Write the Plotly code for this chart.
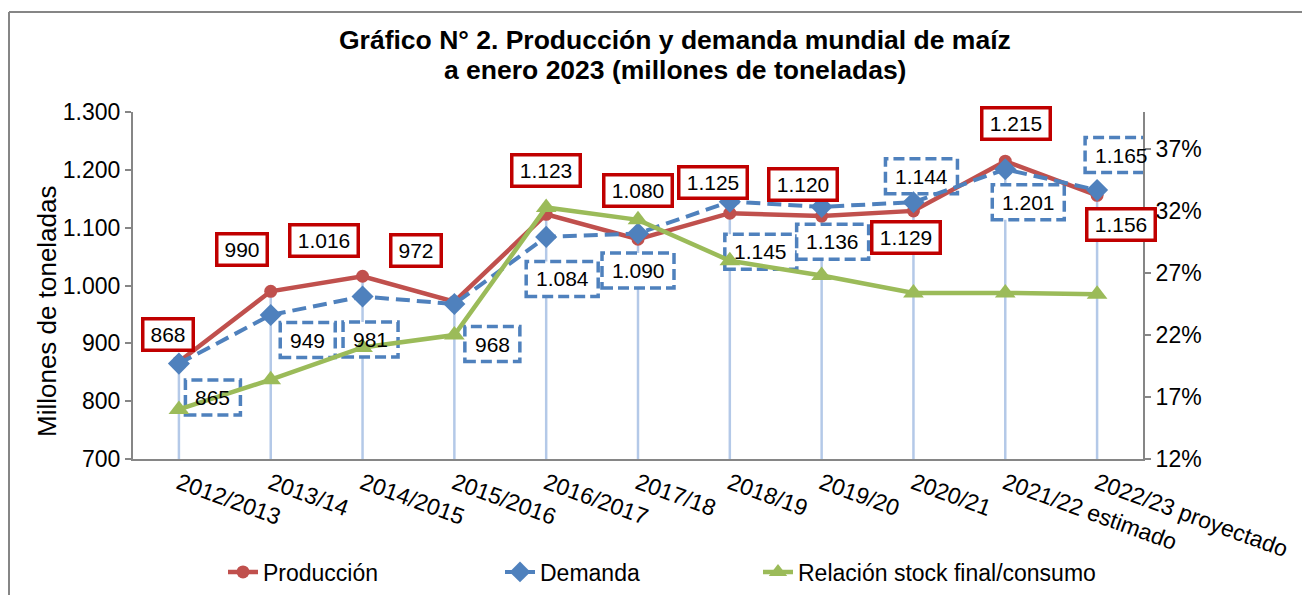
import plotly.graph_objects as go

# ---------------- data ----------------
categories = ["2012/2013", "2013/14", "2014/2015", "2015/2016", "2016/2017", "2017/18",
              "2018/19", "2019/20", "2020/21", "2021/22 estimado", "2022/23 proyectado"]
produccion = [868, 990, 1016, 972, 1123, 1080, 1125, 1120, 1129, 1215, 1156]
demanda = [865, 949, 981, 968, 1084, 1090, 1145, 1136, 1144, 1201, 1165]
relacion_stock = [0.160, 0.184, 0.210, 0.220, 0.323, 0.313, 0.280, 0.268, 0.254, 0.254, 0.253]

left_ticks = [700, 800, 900, 1000, 1100, 1200, 1300]
right_ticks = [0.12, 0.17, 0.22, 0.27, 0.32, 0.37]

# label offsets from their point, in screen pixels (dx right, dy down)
prod_offsets = [(-11, -27), (-29, -42), (-39, -36), (-38, -51), (0, -44), (0, -49),
                (-17, -31), (-19, -32), (-7, 27), (11, -38), (24, 29)]
dem_offsets = [(34, 34), (37, 25), (8, 43), (38, 40), (16, 42), (0, 37),
               (31, 50), (11, 35), (8, -26), (23, 33), (24, -35)]

RED = "#C0504D"
RED_BOX = "#C00000"
BLUE = "#4F81BD"
GREEN = "#9BBB59"
DROP = "#B4C9E8"
AXIS = "#868686"
FONT = "Liberation Sans, Arial, sans-serif"

OFF = 8  # page body margin
W, H = 1310 - OFF, 595 - OFF
L, R, T, B = 133 - OFF, 1143 - OFF, 112 - OFF, 459 - OFF
PW, PH = R - L, B - T


def px_x(p):
    return (p - OFF - L) / PW


def px_y(p):
    return (B - (p - OFF)) / PH


def fmt(v):
    return f"{v:,}".replace(",", ".")


x = list(range(len(categories)))

fig = go.Figure()

fig.add_trace(go.Scatter(
    x=x, y=produccion, name="Producción", mode="lines+markers", legend="legend",
    line=dict(color=RED, width=4.5),
    marker=dict(symbol="circle", size=13, color=RED),
))
fig.add_trace(go.Scatter(
    x=x, y=demanda, name="Demanda", mode="lines+markers", legend="legend2",
    line=dict(color=BLUE, width=4, dash="14px,7px"),
    marker=dict(symbol="diamond", size=17, color=BLUE),
))
fig.add_trace(go.Scatter(
    x=x, y=relacion_stock, name="Relación stock final/consumo", mode="lines+markers",
    yaxis="y2", legend="legend3",
    line=dict(color=GREEN, width=4.5),
    marker=dict(symbol="triangle-up", size=18, color=GREEN),
))

shapes = []
# drop lines
for i in x:
    top = max(produccion[i], demanda[i])
    shapes.append(dict(type="line", xref="x", yref="y", x0=i, x1=i, y0=left_ticks[0], y1=top,
                       line=dict(color=DROP, width=2.5), layer="below"))

annotations = []
# demand labels: dashed boxes
for i, (v, (dx, dy)) in enumerate(zip(demanda, dem_offsets)):
    txt = fmt(v)
    w = 72 if v >= 1000 else 55
    h = 35
    shapes.append(dict(type="rect", xref="x", yref="y", xsizemode="pixel", ysizemode="pixel",
                       xanchor=i, yanchor=v,
                       x0=dx - w / 2, x1=dx + w / 2, y0=-dy - h / 2, y1=-dy + h / 2,
                       line=dict(color=BLUE, width=3.5, dash="11px,5px"),
                       fillcolor="white", layer="below"))
    annotations.append(dict(x=i, y=v, xref="x", yref="y", text=txt, showarrow=False,
                            xshift=dx, yshift=-dy, font=dict(family=FONT, size=21, color="black")))

# production labels: solid red boxes
for i, (v, (dx, dy)) in enumerate(zip(produccion, prod_offsets)):
    txt = fmt(v)
    w = 72 if v >= 1000 else 54
    h = 35
    annotations.append(dict(x=i, y=v, xref="x", yref="y", text=txt, showarrow=False,
                            xshift=dx, yshift=-dy, bgcolor="white",
                            bordercolor=RED_BOX, borderwidth=3.5, borderpad=2,
                            width=w - 11, height=h - 11,
                            font=dict(family=FONT, size=21, color="black")))

# title (two lines)
annotations.append(dict(xref="paper", yref="paper", x=px_x(675), y=px_y(40), xanchor="center", yanchor="middle",
                        text="<b>Gráfico N° 2. Producción y demanda mundial de maíz</b>",
                        showarrow=False, font=dict(family=FONT, size=26.5, color="black")))
annotations.append(dict(xref="paper", yref="paper", x=px_x(675), y=px_y(70), xanchor="center", yanchor="middle",
                        text="<b>a enero 2023 (millones de toneladas)</b>",
                        showarrow=False, font=dict(family=FONT, size=26.5, color="black")))
# y-axis title
annotations.append(dict(xref="paper", yref="paper", x=px_x(47), y=px_y(311),
                        xanchor="center", yanchor="middle", textangle=-90,
                        text="Millones de toneladas", showarrow=False,
                        font=dict(family=FONT, size=26, color="black")))

# outer chart border: only its left and top edges are inside the picture
shapes.append(dict(type="line", xref="paper", yref="paper",
                   x0=px_x(9), x1=px_x(9), y0=px_y(12), y1=px_y(600),
                   line=dict(color=AXIS, width=2), layer="below"))
shapes.append(dict(type="line", xref="paper", yref="paper",
                   x0=px_x(9), x1=px_x(1320), y0=px_y(12), y1=px_y(12),
                   line=dict(color=AXIS, width=2), layer="below"))

legend_common = dict(orientation="h", yanchor="middle", xanchor="left", y=px_y(572),
                     font=dict(family=FONT, size=23, color="black"), bgcolor="rgba(0,0,0,0)")

fig.update_layout(
    width=W, height=H,
    margin=dict(l=L, r=W - R, t=T, b=H - B, autoexpand=False),
    paper_bgcolor="white", plot_bgcolor="white",
    separators=",.",
    font=dict(family=FONT, size=22, color="black"),
    showlegend=True,
    legend=dict(x=px_x(265 - 42), **legend_common),
    legend2=dict(x=px_x(542 - 42), **legend_common),
    legend3=dict(x=px_x(800 - 42), **legend_common),
    xaxis=dict(range=[-0.5, len(categories) - 0.5], tickmode="array", tickvals=x, ticktext=categories,
               tickangle=20, showline=True, linecolor=AXIS, linewidth=2, ticks="", automargin=False,
               showgrid=False, zeroline=False, tickfont=dict(family=FONT, size=23, color="black")),
    yaxis=dict(range=[700, 1300], tickmode="array", tickvals=left_ticks,
               ticktext=[fmt(t) for t in left_ticks], automargin=False,
               showline=True, linecolor=AXIS, linewidth=2, ticks="outside", ticklen=6,
               tickcolor=AXIS, tickwidth=2,
               showgrid=False, zeroline=False, tickfont=dict(family=FONT, size=23, color="black")),
    yaxis2=dict(range=[0.12, 0.40], overlaying="y", side="right", tickmode="array",
                tickvals=right_ticks, ticktext=[f"{round(t*100)}%" for t in right_ticks],
                showline=True, linecolor=AXIS, linewidth=2, ticks="outside", ticklen=6,
                tickcolor=AXIS, tickwidth=2, automargin=False,
                showgrid=False, zeroline=False, tickfont=dict(family=FONT, size=23, color="black")),
    shapes=shapes,
    annotations=annotations,
)

fig.write_html("out.html")
